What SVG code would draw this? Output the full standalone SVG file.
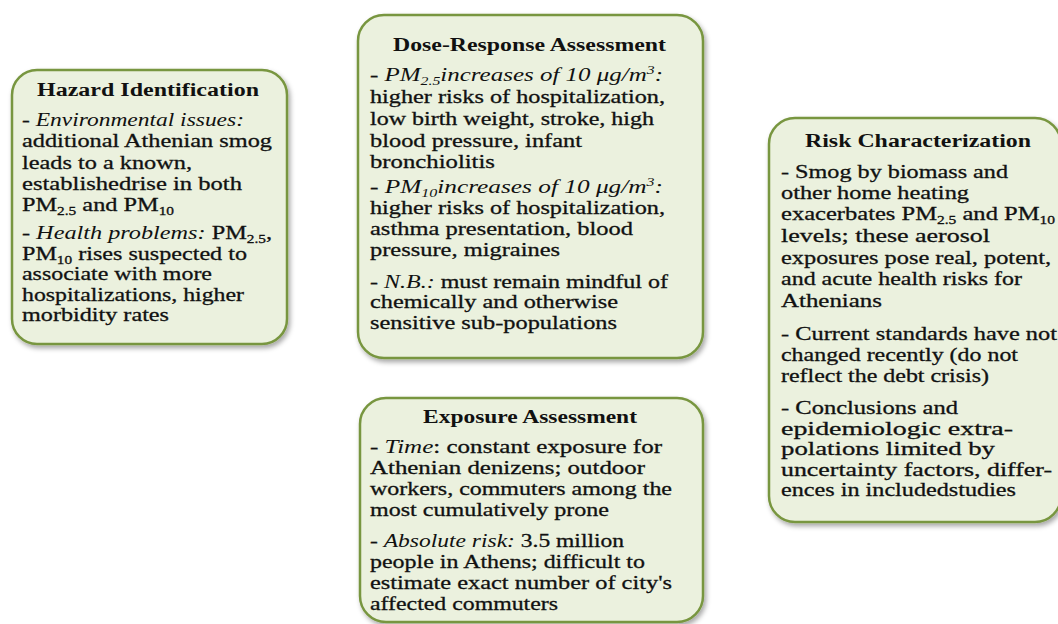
<svg xmlns="http://www.w3.org/2000/svg" width="1058" height="624" viewBox="0 0 1058 624">
<style>
.box{fill:#ebf1de;stroke:#78963f;stroke-width:2.5;filter:url(#sh)}
text{font-family:"Liberation Serif","Times New Roman",serif;fill:#111;font-size:19px;stroke:#111;stroke-width:0.3}
.t{font-weight:bold;font-size:18px;text-anchor:middle;stroke-width:0}
.i{font-style:italic;stroke-width:0}
.sub{font-size:12px;baseline-shift:-4px}
.sup{font-size:12px;baseline-shift:7px}
</style>
<defs>
<filter id="sh" x="-10%" y="-10%" width="125%" height="125%">
<feDropShadow dx="2" dy="3" stdDeviation="2.5" flood-color="#000" flood-opacity="0.35"/>
</filter>
</defs>
<rect width="1058" height="624" fill="#ffffff"/>
<g id="connectors"></g>

<g id="hazard">
<rect class="box" x="12" y="70" width="275" height="274" rx="25"/>
<text class="t" x="148" y="96" textLength="222" lengthAdjust="spacingAndGlyphs">Hazard Identification</text>
<text x="22" y="126" textLength="222" lengthAdjust="spacingAndGlyphs">- <tspan class="i">Environmental issues:</tspan></text>
<text x="22" y="147" textLength="250" lengthAdjust="spacingAndGlyphs">additional Athenian smog</text>
<text x="22" y="169" textLength="170" lengthAdjust="spacingAndGlyphs">leads to a known,</text>
<text x="22" y="190" textLength="220" lengthAdjust="spacingAndGlyphs">establishedrise in both</text>
<text x="22" y="211" textLength="152" lengthAdjust="spacingAndGlyphs">PM<tspan class="sub">2.5</tspan> and PM<tspan class="sub">10</tspan></text>
<text x="22" y="239" textLength="250" lengthAdjust="spacingAndGlyphs">- <tspan class="i">Health problems:</tspan> PM<tspan class="sub">2.5</tspan>,</text>
<text x="22" y="260" textLength="225" lengthAdjust="spacingAndGlyphs">PM<tspan class="sub">10</tspan> rises suspected to</text>
<text x="22" y="280" textLength="190" lengthAdjust="spacingAndGlyphs">associate with more</text>
<text x="22" y="301" textLength="222" lengthAdjust="spacingAndGlyphs">hospitalizations, higher</text>
<text x="22" y="321" textLength="147" lengthAdjust="spacingAndGlyphs">morbidity rates</text>
</g>

<g id="dose-response">
<rect class="box" x="358" y="15" width="345" height="343" rx="26"/>
<text class="t" x="529.5" y="51" textLength="273" lengthAdjust="spacingAndGlyphs">Dose-Response Assessment</text>
<text x="370" y="81" textLength="293" lengthAdjust="spacingAndGlyphs">- <tspan class="i">PM</tspan><tspan class="i sub">2.5</tspan><tspan class="i">increases of 10 μg/m</tspan><tspan class="i sup">3</tspan><tspan class="i">:</tspan></text>
<text x="370" y="103" textLength="295" lengthAdjust="spacingAndGlyphs">higher risks of hospitalization,</text>
<text x="370" y="125" textLength="284" lengthAdjust="spacingAndGlyphs">low birth weight, stroke, high</text>
<text x="370" y="147" textLength="212" lengthAdjust="spacingAndGlyphs">blood pressure, infant</text>
<text x="370" y="168" textLength="125" lengthAdjust="spacingAndGlyphs">bronchiolitis</text>
<text x="370" y="193" textLength="293" lengthAdjust="spacingAndGlyphs">- <tspan class="i">PM</tspan><tspan class="i sub">10</tspan><tspan class="i">increases of 10 μg/m</tspan><tspan class="i sup">3</tspan><tspan class="i">:</tspan></text>
<text x="370" y="214" textLength="295" lengthAdjust="spacingAndGlyphs">higher risks of hospitalization,</text>
<text x="370" y="235" textLength="263" lengthAdjust="spacingAndGlyphs">asthma presentation, blood</text>
<text x="370" y="256" textLength="190" lengthAdjust="spacingAndGlyphs">pressure, migraines</text>
<text x="370" y="288" textLength="298" lengthAdjust="spacingAndGlyphs">- <tspan class="i">N.B.:</tspan> must remain mindful of</text>
<text x="370" y="308" textLength="248" lengthAdjust="spacingAndGlyphs">chemically and otherwise</text>
<text x="370" y="329" textLength="247" lengthAdjust="spacingAndGlyphs">sensitive sub-populations</text>
</g>

<g id="exposure">
<rect class="box" x="360" y="398" width="343" height="224" rx="26"/>
<text class="t" x="530" y="423" textLength="214" lengthAdjust="spacingAndGlyphs">Exposure Assessment</text>
<text x="370" y="453" textLength="292" lengthAdjust="spacingAndGlyphs">- <tspan class="i">Time</tspan>: constant exposure for</text>
<text x="370" y="474" textLength="275" lengthAdjust="spacingAndGlyphs">Athenian denizens; outdoor</text>
<text x="370" y="495" textLength="302" lengthAdjust="spacingAndGlyphs">workers, commuters among the</text>
<text x="370" y="516" textLength="239" lengthAdjust="spacingAndGlyphs">most cumulatively prone</text>
<text x="370" y="547" textLength="254" lengthAdjust="spacingAndGlyphs">- <tspan class="i">Absolute risk:</tspan> 3.5 million</text>
<text x="370" y="568" textLength="275" lengthAdjust="spacingAndGlyphs">people in Athens; difficult to</text>
<text x="370" y="589" textLength="302" lengthAdjust="spacingAndGlyphs">estimate exact number of city's</text>
<text x="370" y="610" textLength="188" lengthAdjust="spacingAndGlyphs">affected commuters</text>
</g>

<g id="risk">
<rect class="box" x="769" y="118" width="292" height="404" rx="26"/>
<text class="t" x="918" y="147" textLength="226" lengthAdjust="spacingAndGlyphs">Risk Characterization</text>
<text x="781" y="178" textLength="227" lengthAdjust="spacingAndGlyphs">- Smog by biomass and</text>
<text x="781" y="199" textLength="188" lengthAdjust="spacingAndGlyphs">other home heating</text>
<text x="781" y="220" textLength="274" lengthAdjust="spacingAndGlyphs">exacerbates PM<tspan class="sub">2.5</tspan> and PM<tspan class="sub">10</tspan></text>
<text x="781" y="242" textLength="209" lengthAdjust="spacingAndGlyphs">levels; these aerosol</text>
<text x="781" y="264" textLength="270" lengthAdjust="spacingAndGlyphs">exposures pose real, potent,</text>
<text x="781" y="285" textLength="241" lengthAdjust="spacingAndGlyphs">and acute health risks for</text>
<text x="781" y="307" textLength="101" lengthAdjust="spacingAndGlyphs">Athenians</text>
<text x="781" y="340" textLength="276" lengthAdjust="spacingAndGlyphs">- Current standards have not</text>
<text x="781" y="361" textLength="237" lengthAdjust="spacingAndGlyphs">changed recently (do not</text>
<text x="781" y="382" textLength="208" lengthAdjust="spacingAndGlyphs">reflect the debt crisis)</text>
<text x="781" y="414" textLength="177" lengthAdjust="spacingAndGlyphs">- Conclusions and</text>
<text x="781" y="435" textLength="232" lengthAdjust="spacingAndGlyphs">epidemiologic extra-</text>
<text x="781" y="455" textLength="214" lengthAdjust="spacingAndGlyphs">polations limited by</text>
<text x="781" y="476" textLength="271" lengthAdjust="spacingAndGlyphs">uncertainty factors, differ-</text>
<text x="781" y="496" textLength="235" lengthAdjust="spacingAndGlyphs">ences in includedstudies</text>
</g>
</svg>
